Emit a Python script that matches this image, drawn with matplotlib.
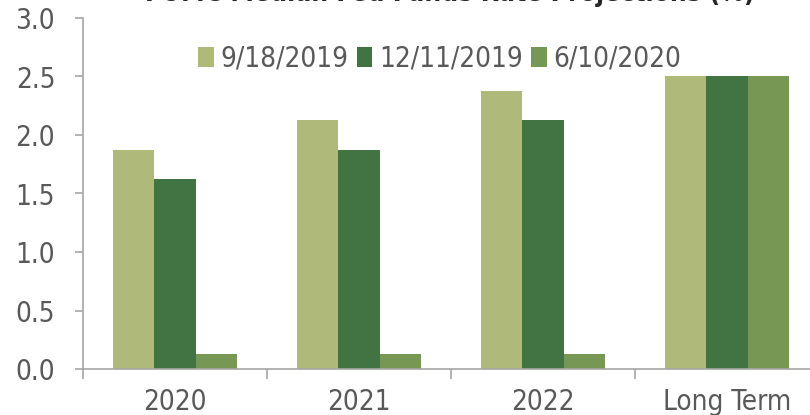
import matplotlib.pyplot as plt
import numpy as np
from matplotlib.ticker import FixedLocator

categories = ['2020', '2021', '2022', 'Long Term']
series_names = ['9/18/2019', '12/11/2019', '6/10/2020']
sep_2019 = [1.875, 2.125, 2.375, 2.5]
dec_2019 = [1.625, 1.875, 2.125, 2.5]
jun_2020 = [0.125, 0.125, 0.125, 2.5]
colors = ['#AFB97A', '#417343', '#779855']

plt.rcParams['font.family'] = ['DejaVu Sans']
plt.rcParams['font.stretch'] = 'condensed'
grey = '#595959'

fig = plt.figure(figsize=(8.1, 4.15), dpi=100)
# plot area runs past the right edge, as in the original crop
ax = fig.add_axes([83 / 810, 1 - 369 / 415, 736 / 810, 351 / 415])

x = np.arange(len(categories))
w = 0.223
for i, (vals, name) in enumerate(zip([sep_2019, dec_2019, jun_2020], series_names)):
    ax.bar(x + (i - 1) * w, vals, width=w, color=colors[i], label=name, zorder=2)

ax.set_xlim(-0.5, len(categories) - 0.5)
ax.set_ylim(0, 3.0)
ax.set_yticks(np.arange(0, 3.01, 0.5))
ax.set_yticklabels([f'{v:.1f}' for v in np.arange(0, 3.01, 0.5)])
ax.set_xticks(x)
ax.set_xticklabels(categories)
ax.xaxis.set_minor_locator(FixedLocator(np.arange(-0.5, len(categories), 1)))
ax.tick_params(axis='x', which='major', length=0, pad=14, labelsize=20, colors=grey)
ax.tick_params(axis='x', which='minor', length=7, width=1.2, color='#A6A6A6', direction='out')
ax.tick_params(axis='y', length=6, width=1.2, color='#A6A6A6', labelsize=20, labelcolor=grey, pad=14)

for s in ['top', 'right']:
    ax.spines[s].set_visible(False)
for s in ['left', 'bottom']:
    ax.spines[s].set_color('#A6A6A6')
    ax.spines[s].set_linewidth(1.2)

ax.legend(loc='upper center', bbox_to_anchor=(0.485, 0.995), ncol=3, frameon=False,
          fontsize=20, labelcolor=grey, handlelength=0.55, handleheight=0.75,
          handletextpad=0.25, columnspacing=0.3)

fig.text(0.555, 1.045, 'FOMC Median Fed Funds Rate Projections (%)', ha='center', va='top',
         fontsize=19, fontweight='bold', color='#262626')

fig.savefig('out.png', dpi=100)
